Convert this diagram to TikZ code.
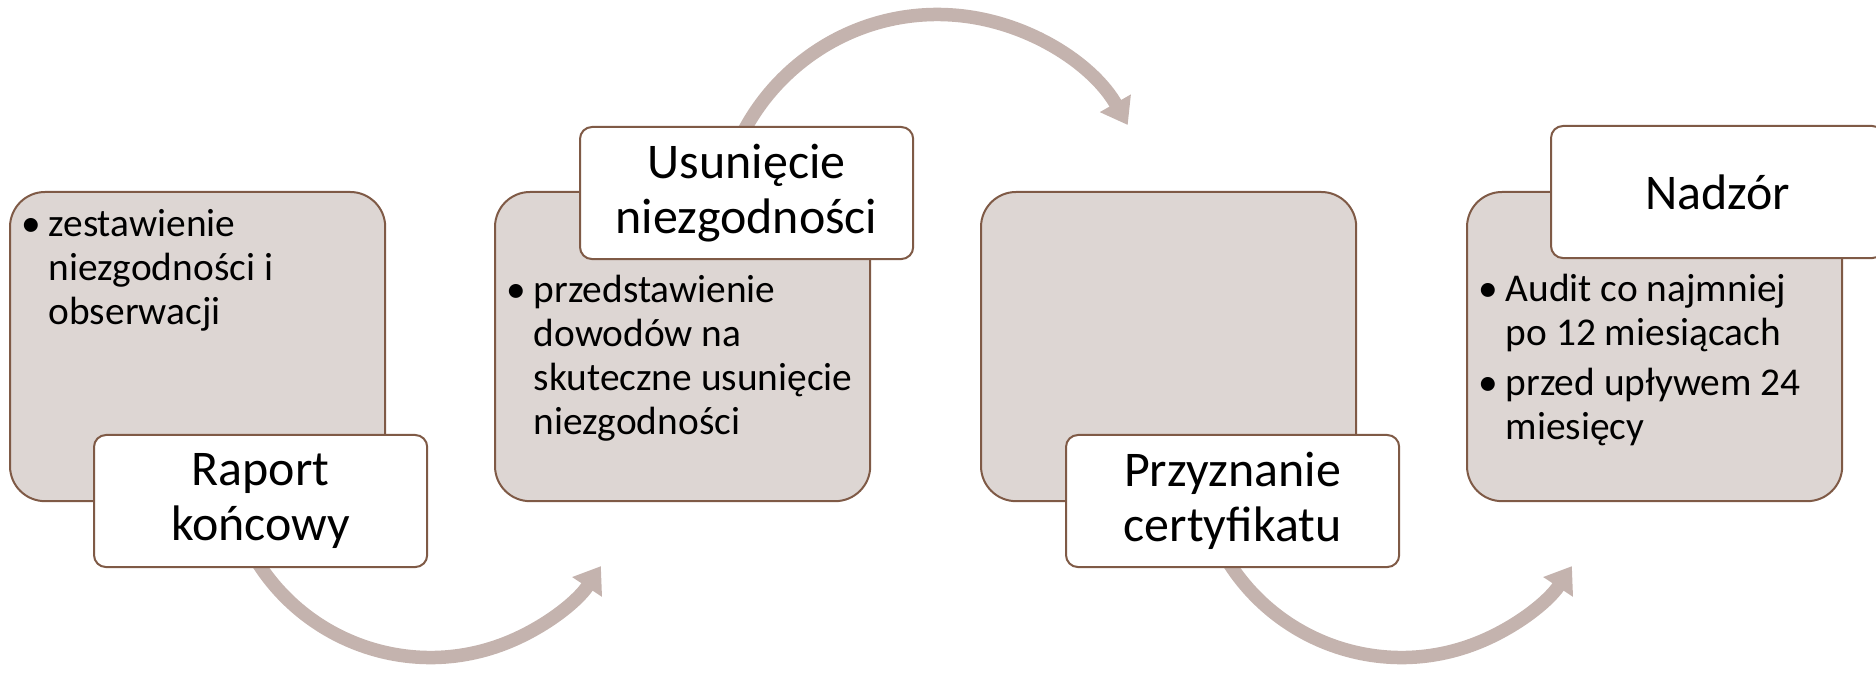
\documentclass[tikz,border=0pt]{standalone}
\usepackage{fontspec}
\setmainfont{Carlito}
\usetikzlibrary{arrows.meta}
\definecolor{ramka}{RGB}{127,90,70}
\definecolor{tlo}{RGB}{221,214,211}
\definecolor{lukkolor}{RGB}{196,179,174}

\tikzset{
  etap/.style={draw=ramka, fill=tlo, line width=0.02cm, rounded corners=0.35cm,
    minimum width=3.75cm, minimum height=3.09cm, anchor=north west, inner sep=0pt},
  tytul/.style={draw=ramka, fill=white, line width=0.02cm, rounded corners=0.12cm,
    minimum width=3.33cm, minimum height=1.32cm, anchor=north west, align=center,
    font=\fontsize{14.2}{15.6}\selectfont},
  opis/.style={anchor=base west, inner sep=0pt, font=\fontsize{11.2}{12.5}\selectfont},
  luk/.style={draw=lukkolor, line width=0.135cm, -{Triangle[width=0.34cm,length=0.25cm]}}
}
\newcommand{\punkt}{\makebox[0.27cm][l]{\textbullet}}

\begin{document}
\begin{tikzpicture}[x=0.01cm, y=0.01cm]
            \clip (0,0) rectangle (1876,673);

            % Strzalki
            \coordinate (c1) at (430.5,220.1);
            \coordinate (c2) at (937.5,439.5);
            \coordinate (c3) at (1401.5,220.1);
            \draw[luk] ([shift={(200:204.6)}]c1) arc[start angle=200, end angle=326.4, radius=204.6];
            \draw[luk] ([shift={(172:219)}]c2) arc[start angle=172, end angle=29.7, radius=219];
            \draw[luk] ([shift={(200:204.6)}]c3) arc[start angle=200, end angle=326.4, radius=204.6];

            % Raport koncowy
            \node[etap] (b1) at (9,482) {};
            \node[tytul] (t1) at (93,239) {Raport\\końcowy};
            \node[opis] (o1) at (21,436) {\begin{tabular}[t]{@{}l@{}l@{}}
              \punkt & zestawienie\\
                     & niezgodności i\\
                     & obserwacji
            \end{tabular}};

            % Usuniecie niezgodnosci
            \node[etap] (b2) at (494,482) {};
            \node[tytul] (t2) at (579,547) {Usunięcie\\niezgodności};
            \node[opis] (o2) at (506,370) {\begin{tabular}[t]{@{}l@{}l@{}}
              \punkt & przedstawienie\\
                     & dowodów na\\
                     & skuteczne usunięcie\\
                     & niezgodności
            \end{tabular}};

            % Przyznanie certyfikatu
            \node[etap] (b3) at (980,482) {};
            \node[tytul] (t3) at (1065,239) {Przyznanie\\certyfikatu};

            % Nadzor
            \node[etap] (b4) at (1466,482) {};
            \node[tytul] (t4) at (1550,548) {Nadzór};
            \node[opis] (o4) at (1478,371) {\begin{tabular}[t]{@{}l@{}l@{}}
              \punkt & Audit co najmniej\\
                     & po 12 miesiącach\\[1.7pt]
              \punkt & przed upływem 24\\
                     & miesięcy
            \end{tabular}};
        \end{tikzpicture}
\end{document}
